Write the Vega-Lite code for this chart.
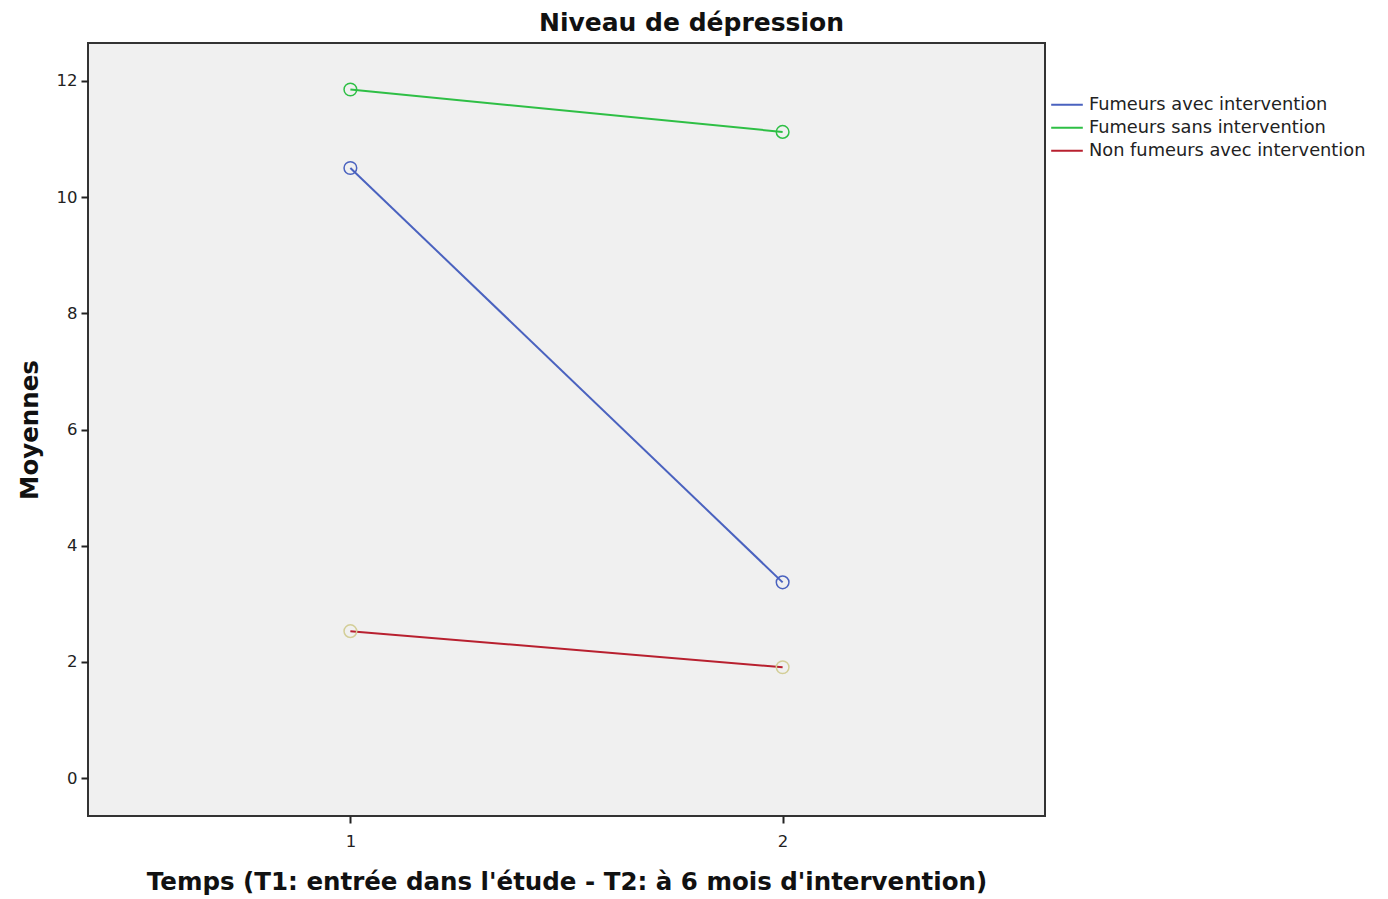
{
  "$schema": "https://vega.github.io/schema/vega-lite/v6.json",
  "autosize": {"type": "none"},
  "width": 957,
  "height": 773,
  "padding": {"left": 88, "top": 43, "right": 343, "bottom": 83},
  "background": "white",
  "config": {
    "font": "DejaVu Sans",
    "view": {"fill": "#f0f0f0", "stroke": "#333333", "strokeWidth": 2},
    "axis": {"grid": false, "domain": false, "labelFont": "DejaVu Sans", "labelFontSize": 16.5, "labelColor": "#222222", "tickColor": "#222222", "tickWidth": 2, "tickSize": 7, "titleFont": "DejaVu Sans", "titleFontWeight": "bold", "titleColor": "#111111"}
  },
  "title": {"text": "Niveau de dépression", "font": "DejaVu Sans", "fontSize": 25, "fontWeight": "bold", "color": "#111111", "anchor": "middle", "frame": "bounds", "offset": 7},
  "data": {
    "values": [
      {"groupe": "Fumeurs avec intervention", "temps": 1, "moyenne": 10.50},
      {"groupe": "Fumeurs avec intervention", "temps": 2, "moyenne": 3.37},
      {"groupe": "Fumeurs sans intervention", "temps": 1, "moyenne": 11.85},
      {"groupe": "Fumeurs sans intervention", "temps": 2, "moyenne": 11.12},
      {"groupe": "Non fumeurs avec intervention", "temps": 1, "moyenne": 2.53},
      {"groupe": "Non fumeurs avec intervention", "temps": 2, "moyenne": 1.91}
    ]
  },
  "encoding": {
    "x": {"field": "temps", "type": "quantitative", "scale": {"domain": [0.393, 2.607], "nice": false, "zero": false},
      "axis": {"values": [1, 2], "title": "Temps (T1: entrée dans l'étude - T2: à 6 mois d'intervention)", "titleFontSize": 24.5, "titlePadding": 21, "labelPadding": 10}},
    "y": {"field": "moyenne", "type": "quantitative", "scale": {"domain": [-0.65, 12.65], "nice": false, "zero": false},
      "axis": {"values": [0, 2, 4, 6, 8, 10, 12], "title": "Moyennes", "titleFontSize": 24.5, "titlePadding": 14, "labelPadding": 4}}
  },
  "layer": [
    {
      "mark": {"type": "line", "strokeWidth": 2},
      "encoding": {
        "color": {"field": "groupe", "type": "nominal",
          "scale": {"domain": ["Fumeurs avec intervention", "Fumeurs sans intervention", "Non fumeurs avec intervention"], "range": ["#4a62bf", "#2ebf45", "#b8202f"]},
          "legend": {"title": null, "orient": "none", "legendX": 962, "legendY": 50.5, "symbolType": "stroke", "symbolSize": 1000, "symbolStrokeWidth": 2, "labelFontSize": 17.8, "labelFont": "DejaVu Sans", "labelColor": "#222222", "labelLimit": 0, "rowPadding": 0, "clipHeight": 22.5, "labelOffset": 5, "symbolOffset": 0, "labelBaseline": "middle"}}
      }
    },
    {
      "mark": {"type": "point", "shape": "circle", "filled": false, "size": 160, "strokeWidth": 1.5, "opacity": 1},
      "encoding": {
        "stroke": {"field": "groupe", "type": "nominal",
          "scale": {"domain": ["Fumeurs avec intervention", "Fumeurs sans intervention", "Non fumeurs avec intervention"], "range": ["#4a62bf", "#2ebf45", "#d3ce97"]},
          "legend": null}
      }
    }
  ]
}
